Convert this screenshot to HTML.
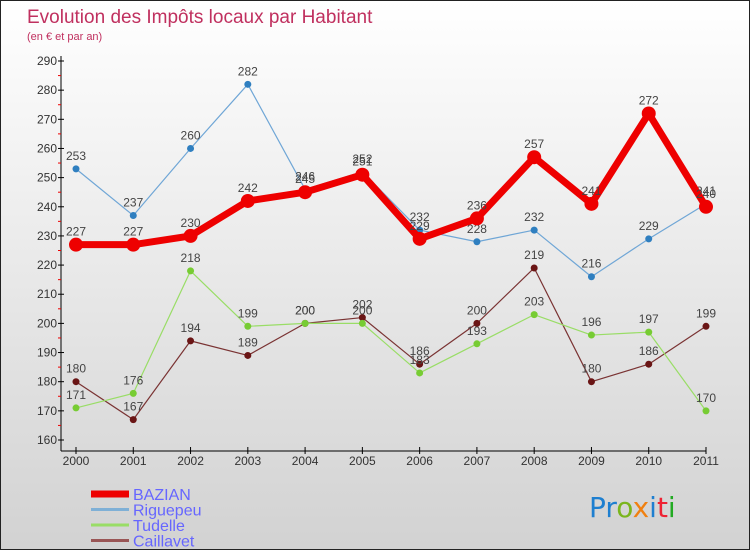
<!DOCTYPE html>
<html><head><meta charset="utf-8"><style>
body{margin:0}
#c{width:748px;height:548px;border:1px solid #222;background:linear-gradient(#fff,#d2d2d2);position:relative;font-family:"Liberation Sans",sans-serif}
svg{position:absolute;left:0;top:0}
</style></head><body>
<div id="c">
<svg id="s" width="750" height="550">
<text x="26" y="22" font-size="19" fill="#c0305f">Evolution des Impôts locaux par Habitant</text>
<text x="26" y="39" font-size="11" fill="#c0305f">(en € et par an)</text>
<text x="588" y="516" font-size="28" font-family="DejaVu Sans"><tspan fill="#1e7fd0">Pr</tspan><tspan fill="#7ab51d">o</tspan><tspan fill="#f08010">x</tspan><tspan fill="#1e7fd0">i</tspan><tspan fill="#e23">t</tspan><tspan fill="#2a2">i</tspan></text>
</svg>
</div>
<script>
const years=[2000,2001,2002,2003,2004,2005,2006,2007,2008,2009,2010,2011];
const yTicks=[160,170,180,190,200,210,220,230,240,250,260,270,280,290];
const bazian=[227,227,230,242,245,251,229,236,257,241,272,240];
const riguepeu=[253,237,260,282,246,252,232,228,232,216,229,241];
const tudelle=[171,176,218,199,200,200,183,193,203,196,197,170];
const caillavet=[180,167,194,189,200,202,186,200,219,180,186,199];
const seriesNames=["BAZIAN","Riguepeu","Tudelle","Caillavet"];
const s=document.getElementById('s'),NS="http://www.w3.org/2000/svg";
const X=i=>75+i*(630/11), Y=v=>439-(v-160)*(379/130);
function el(t,a,p){const e=document.createElementNS(NS,t);for(const k in a)e.setAttribute(k,a[k]);(p||s).appendChild(e);return e;}
let a=el('line',{x1:60,y1:55,x2:60,y2:450,stroke:'#000'});


a=el('line',{x1:60,y1:450,x2:705,y2:450,stroke:'#000'});


yTicks.forEach((v,i)=>{
 el('line',{x1:57,x2:63,y1:Y(v),y2:Y(v),stroke:'#000'});
 if(i<yTicks.length-1)el('line',{x1:57,x2:60,y1:Y(v+5),y2:Y(v+5),stroke:'#e00'});
 const t=el('text',{x:56,y:Y(v)+4,'text-anchor':'end','font-size':12,fill:'#333'});t.textContent=v;
 
 
});
years.forEach((y,i)=>{
 el('line',{x1:X(i),x2:X(i),y1:446,y2:453,stroke:'#000'});
 const t=el('text',{x:X(i),y:464,'text-anchor':'middle','font-size':12,fill:'#333'});t.textContent=y;
 
 
});
function series(d,col,w,r,dot,name){
 const g=el('g',{});
 
 
 el('polyline',{points:d.map((v,i)=>X(i)+','+Y(v)).join(' '),fill:'none',stroke:col,'stroke-width':w,'stroke-linejoin':'round'},g);
 d.forEach((v,i)=>{
  const c=el('circle',{cx:X(i),cy:Y(v),r:r,fill:dot},g);
  
  
  const t=el('text',{x:X(i),y:Y(v)-9,'text-anchor':'middle','font-size':12,fill:'#444'},g);t.textContent=v;
  
  
 });
}
series(caillavet,'#7a3333',1.2,3.5,'#6a1515','caillavet');
series(tudelle,'#99dd66',1.2,3.5,'#77cc33','tudelle');
series(riguepeu,'#6fa6d6',1.2,3.5,'#2f7fc0','riguepeu');
series(bazian,'#ee0000',7,7,'#ee0000','bazian');
const lc=['#ee0000','#7fb0d6','#99dd66','#995555'],lw=[7,3,3,3];
seriesNames.forEach((n,i)=>{
 const y=493+i*15.5;
 const g=el('g',{});
 
 
 el('line',{x1:90,x2:128,y1:y,y2:y,stroke:lc[i],'stroke-width':lw[i]},g);
 const t=el('text',{x:132,y:y+6,'font-size':16,fill:'#6666ff'},g);t.textContent=n;
});
</script>
</body></html>
